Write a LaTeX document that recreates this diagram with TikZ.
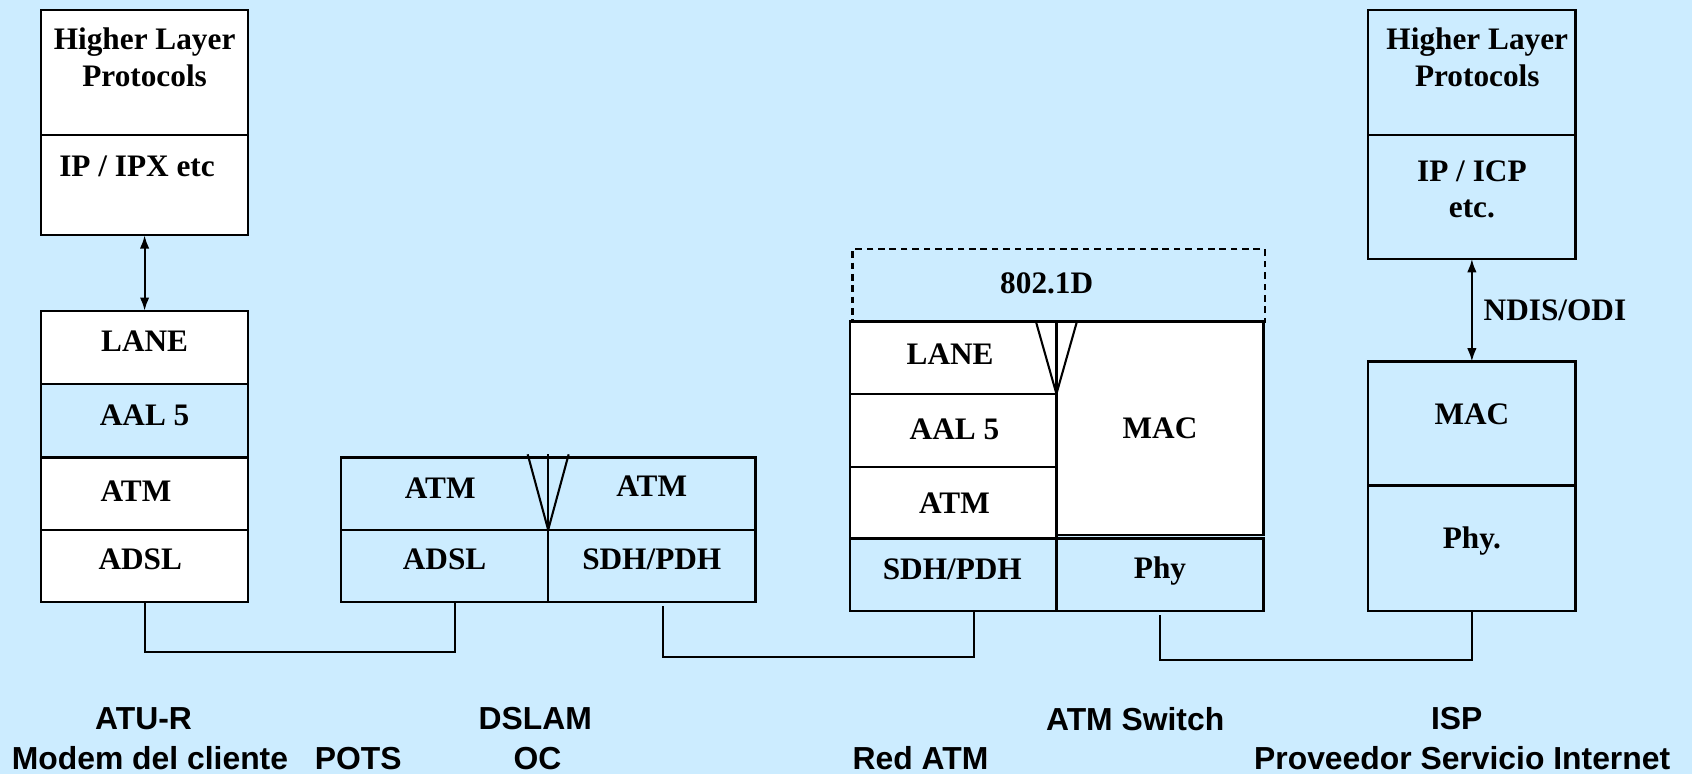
\documentclass[tikz,border=0pt]{standalone}
\usepackage{fontspec}
\setmainfont{Liberation Serif}
\newfontfamily\capfont{Liberation Sans}
\usetikzlibrary{positioning,arrows.meta}
\definecolor{slideblue}{RGB}{204,236,255}
\newlength{\pxunit}
\setlength{\pxunit}{0.02cm}

\begin{document}
\begin{tikzpicture}[x=1\pxunit,y=-1\pxunit,
lyr/.style n args={3}{draw,line width=1.2pt,fill=#1,minimum width=#2\pxunit,minimum height=#3\pxunit,inner sep=0pt,outer sep=0pt},
txt/.style={font=\fontsize{16.5}{19.4}\selectfont\bfseries,align=center,inner sep=0pt},
devname/.style={font=\capfont\fontsize{16.8}{20}\selectfont\bfseries,inner sep=0pt},
wire/.style={line width=1.1pt},
bidir/.style={line width=1.1pt,{Latex[length=7pt,width=5pt]}-{Latex[length=7pt,width=5pt]}}]
\path[use as bounding box,fill=slideblue] (0,0) rectangle (1568,717);
% ATU-R stack
\node[lyr={white}{192}{116},label={[txt,yshift=14\pxunit]center:Higher Layer\\Protocols}] (lhlp) at (134,67) {};
\node[lyr={white}{192}{93},below=0pt of lhlp,label={[txt,xshift=-7\pxunit,yshift=17\pxunit]center:IP / IPX etc}] (lip) {};
\node[lyr={white}{192}{68},label={[txt,yshift=6\pxunit]center:LANE}] (lane) at (134,322) {};
\node[lyr={slideblue}{192}{68},below=0pt of lane,label={[txt,yshift=5\pxunit]center:AAL 5}] (laal) {};
\node[lyr={white}{192}{67},below=0pt of laal,label={[txt,xshift=-8\pxunit,yshift=2\pxunit]center:ATM}] (latm) {};
\node[lyr={white}{192}{67},below=0pt of latm,label={[txt,xshift=-4\pxunit,yshift=6\pxunit]center:ADSL}] (ladsl) {};
\draw[bidir] (lip) -- (lane);
% DSLAM
\node[lyr={slideblue}{192}{67},label={[txt,xshift=-4\pxunit,yshift=5\pxunit]center:ATM}] (datm1) at (412,457.5) {};
\node[lyr={slideblue}{192}{67},right=0pt of datm1,label={[txt,yshift=7\pxunit]center:ATM}] (datm2) {};
\node[lyr={slideblue}{192}{67},below=0pt of datm1,label={[txt,yshift=6\pxunit]center:ADSL}] (dadsl) {};
\node[lyr={slideblue}{192}{67},below=0pt of datm2,label={[txt,yshift=6\pxunit]center:SDH/PDH}] (dsdh) {};
\draw[wire] (489,421) -- (datm1.south east) -- (527,421);
\draw[wire] (508,421) -- (datm1.north east);
% ATM switch
\node[lyr={slideblue}{382}{67},dash pattern=on 3.5pt off 2.5pt,label={[txt,xshift=-11\pxunit,yshift=2\pxunit]center:802.1D}] (sdot) at (981,264.5) {};
\node[lyr={white}{191}{67},label={[txt,xshift=-3\pxunit,yshift=3\pxunit]center:LANE}] (slane) at (883.5,331.5) {};
\node[lyr={white}{191}{68},below=0pt of slane,label={[txt,xshift=1\pxunit,yshift=1\pxunit]center:AAL 5}] (saal) {};
\node[lyr={white}{191}{66},below=0pt of saal,label={[txt,xshift=1\pxunit]center:ATM}] (satm) {};
\node[lyr={slideblue}{191}{67},below=0pt of satm,label={[txt,xshift=-1\pxunit,yshift=5\pxunit]center:SDH/PDH}] (ssdh) {};
\node[lyr={white}{192}{198},label={[txt]center:MAC}] (smac) at (1075,397) {};
\node[lyr={slideblue}{192}{67},label={[txt,yshift=3\pxunit]center:Phy}] (sphy) at (1075,532.5) {};
\draw[wire] (960,298) -- (slane.south east) -- (998,298);
% ISP stack
\node[lyr={slideblue}{192}{116},label={[txt,xshift=5\pxunit,yshift=14\pxunit]center:Higher Layer\\Protocols}] (ihlp) at (1364,67) {};
\node[lyr={slideblue}{192}{115},below=0pt of ihlp,label={[txt,yshift=7\pxunit]center:IP / ICP\\etc.}] (iip) {};
\node[lyr={slideblue}{192}{115},label={[txt,yshift=9\pxunit]center:MAC}] (imac) at (1364,392.5) {};
\node[lyr={slideblue}{192}{116},below=0pt of imac,label={[txt,yshift=7\pxunit]center:Phy.}] (iphy) {};
\draw[bidir] (iip) -- node[txt,right=10\pxunit] (ndis) {NDIS/ODI} (imac);
% lines between the stacks
\draw[wire] (ladsl.south) -- ++(0,46) -| ([xshift=10\pxunit]dadsl.south);
\draw[wire] ([xshift=10\pxunit,yshift=-4\pxunit]dsdh.south) -- ++(0,47) -| ([xshift=19\pxunit]ssdh.south);
\draw[wire] ([yshift=-4\pxunit]sphy.south) -- ++(0,42) -| (iphy.south);
% captions
\foreach \n/\x/\y/\t in {atur/133/666/ATU-R,modem/139/703/Modem del cliente,pots/332/703/POTS,
  dslam/496/666/DSLAM,oc/498/703/OC,redatm/853/703/Red ATM,atmsw/1052/666/ATM Switch,
  isp/1350/666/ISP,prov/1355/703/Proveedor Servicio Internet} {
   \node[devname] (\n) at (\x,\y) {\t};
}
\end{tikzpicture}
\end{document}
